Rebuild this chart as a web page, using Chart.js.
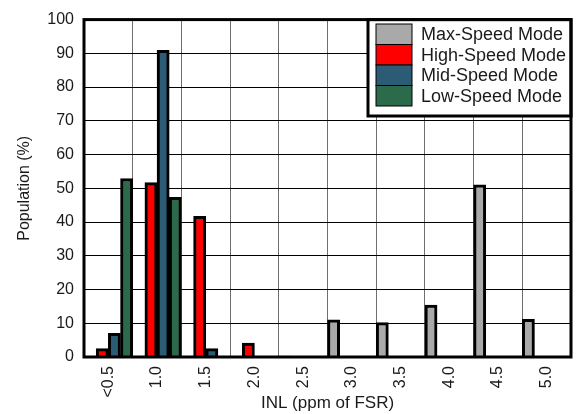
<!DOCTYPE html>
<html>
<head>
<meta charset="utf-8">
<script src="https://cdn.jsdelivr.net/npm/chart.js@4/dist/chart.umd.min.js"></script>
<style>
  html, body { margin: 0; padding: 0; background: #fff; }
  #wrap { width: 579px; height: 414px; position: relative; }
</style>
</head>
<body>
<div id="wrap"><canvas id="c" width="579" height="414"></canvas></div>
<script>
const categories = ['<0.5', '1.0', '1.5', '2.0', '2.5', '3.0', '3.5', '4.0', '4.5', '5.0'];
const maxSpeed  = [0, 0, 0, 0, 0.3, 11.0, 10.2, 15.4, 51.0, 11.2];
const highSpeed = [2.5, 51.7, 41.7, 4.1, 0, 0, 0, 0, 0, 0];
const midSpeed  = [7.0, 90.9, 2.5, 0, 0, 0, 0, 0, 0, 0];
const lowSpeed  = [52.9, 47.3, 0, 0, 0, 0, 0, 0, 0, 0];
const seriesNames = ['Max-Speed Mode', 'High-Speed Mode', 'Mid-Speed Mode', 'Low-Speed Mode'];
const seriesColors = ['#A9A9A9', '#FF0000', '#2B5B75', '#2B6B4B'];
const yTicks = [0, 10, 20, 30, 40, 50, 60, 70, 80, 90, 100];

const FONT = 'Arial, "Liberation Sans", sans-serif';

const frameAndLegend = {
  id: 'frameAndLegend',
  afterDraw(chart) {
    const ctx = chart.ctx;
    const a = chart.chartArea;
    ctx.save();
    // legend box
    const lx = 368, ly = a.top, lw = a.right - 368, lh = 116 - a.top;
    ctx.fillStyle = '#fff';
    ctx.fillRect(lx, ly, lw, lh);
    ctx.lineWidth = 3;
    ctx.strokeStyle = '#000';
    ctx.strokeRect(lx, ly, lw, lh);
    const rowH = 20.5;
    ctx.font = '18px ' + FONT;
    ctx.textBaseline = 'middle';
    ctx.textAlign = 'left';
    chart.data.datasets.forEach((ds, i) => {
      const y = 24 + i * rowH;
      ctx.fillStyle = ds.backgroundColor;
      ctx.fillRect(376, y, 36, rowH);
      ctx.lineWidth = 1;
      ctx.strokeStyle = '#000';
      ctx.strokeRect(376, y, 36, rowH);
      ctx.fillStyle = '#1a1a1a';
      ctx.fillText(ds.label, 421, y + rowH / 2 + 1);
    });
    // plot frame
    ctx.lineWidth = 3;
    ctx.strokeStyle = '#000';
    ctx.strokeRect(a.left, a.top, a.right - a.left, a.bottom - a.top);
    ctx.restore();
  }
};

new Chart(document.getElementById('c'), {
  type: 'bar',
  data: {
    labels: categories,
    datasets: [maxSpeed, highSpeed, midSpeed, lowSpeed].map((d, i) => ({
      label: seriesNames[i],
      data: d,
      backgroundColor: seriesColors[i],
      borderColor: '#000',
      borderWidth: 3,
      borderSkipped: 'start',
      barPercentage: 1,
      categoryPercentage: 1
    }))
  },
  options: {
    responsive: false,
    animation: false,
    devicePixelRatio: 1,
    layout: { padding: { top: 15, right: 8, left: 0, bottom: 0 } },
    plugins: { legend: { display: false }, tooltip: { enabled: false } },
    scales: {
      x: {
        offset: true,
        grid: { offset: true, color: '#6e6e6e', lineWidth: 1, drawTicks: false },
        border: { display: false },
        ticks: {
          font: { family: FONT, size: 16 },
          color: '#1a1a1a',
          minRotation: 90,
          maxRotation: 90,
          padding: 9,
          autoSkip: false
        },
        title: {
          display: true,
          text: 'INL (ppm of FSR)',
          font: { family: FONT, size: 17 },
          color: '#1a1a1a',
          padding: { top: 0, bottom: 0 }
        },
        afterFit(scale) { scale.height = 57; }
      },
      y: {
        min: 0,
        max: 100,
        afterBuildTicks(scale) { scale.ticks = yTicks.map(v => ({ value: v })); },
        grid: { color: '#000', lineWidth: 1, drawTicks: false },
        border: { display: false },
        ticks: {
          font: { family: FONT, size: 16 },
          color: '#1a1a1a',
          padding: 10
        },
        title: {
          display: true,
          text: 'Population (%)',
          font: { family: FONT, size: 16 },
          color: '#1a1a1a',
          padding: { top: 15, bottom: 0 }
        },
        afterFit(scale) { scale.width = 84; }
      }
    }
  },
  plugins: [frameAndLegend]
});
</script>
</body>
</html>
